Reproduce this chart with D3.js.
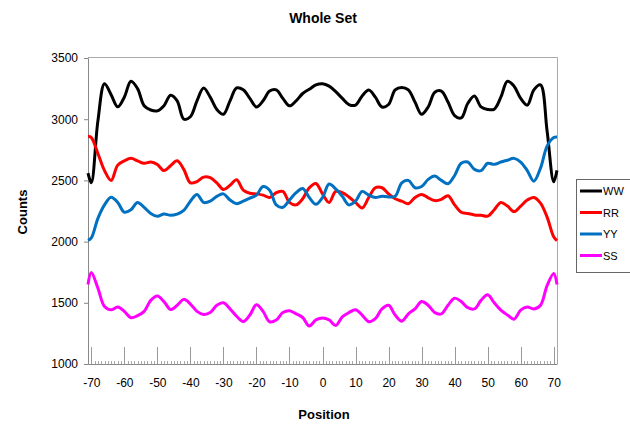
<!DOCTYPE html>
<html>
<head>
<meta charset="utf-8">
<script src="https://cdn.jsdelivr.net/npm/d3@7"></script>
<style>
  html, body { margin: 0; padding: 0; background: #fff; }
  svg { display: block; font-family: Arial, "Liberation Sans", sans-serif; }
</style>
</head>
<body>
<svg id="chart" width="630" height="425"></svg>
<script>
const positions = [-71, -70, -68, -66, -64, -62, -60, -58, -56, -54, -52, -50, -48, -46, -44, -42, -40, -38, -36, -34, -32, -30, -28, -26, -24, -22, -20, -18, -16, -14, -12, -10, -8, -6, -4, -2, 0, 2, 4, 6, 8, 10, 12, 14, 16, 18, 20, 22, 24, 26, 28, 30, 32, 34, 36, 38, 40, 42, 44, 46, 48, 50, 52, 54, 56, 58, 60, 62, 64, 66, 68, 70, 71];

const WW = [2560, 2481, 2986, 3290, 3200, 3101, 3180, 3310, 3250, 3110, 3075, 3068, 3110, 3195, 3150, 3000, 3020, 3150, 3254, 3180, 3080, 3040, 3150, 3255, 3240, 3170, 3100, 3150, 3230, 3240, 3170, 3109, 3150, 3210, 3245, 3280, 3290, 3270, 3225, 3170, 3120, 3115, 3190, 3238, 3180, 3100, 3120, 3240, 3260, 3240, 3140, 3040, 3100, 3220, 3230, 3140, 3030, 3010, 3130, 3190, 3100, 3080, 3082, 3180, 3310, 3270, 3170, 3115, 3240, 3280, 2904, 2489, 2582];

const RR = [2860, 2850, 2720, 2580, 2500, 2625, 2660, 2680, 2660, 2640, 2650, 2630, 2580, 2620, 2660, 2590, 2480, 2490, 2527, 2522, 2480, 2426, 2460, 2505, 2420, 2395, 2390, 2380, 2360, 2400, 2410, 2320, 2300, 2350, 2440, 2475, 2390, 2320, 2410, 2400, 2365, 2320, 2275, 2360, 2440, 2440, 2390, 2350, 2330, 2310, 2360, 2385, 2358, 2335, 2345, 2375, 2300, 2240, 2230, 2218, 2215, 2208, 2260, 2320, 2290, 2245, 2290, 2340, 2360, 2315, 2200, 2040, 2008];

const YY = [2010, 2030, 2190, 2300, 2363, 2320, 2240, 2260, 2320, 2280, 2230, 2207, 2225, 2215, 2225, 2255, 2330, 2385, 2320, 2330, 2370, 2390, 2340, 2310, 2330, 2355, 2380, 2450, 2420, 2300, 2280, 2340, 2400, 2434, 2360, 2305, 2360, 2470, 2430, 2370, 2300, 2330, 2410, 2380, 2360, 2371, 2365, 2370, 2480, 2500, 2440, 2450, 2508, 2535, 2500, 2473, 2540, 2640, 2650, 2590, 2580, 2640, 2631, 2650, 2665, 2680, 2650, 2580, 2494, 2600, 2780, 2850, 2855];

const SS = [1650, 1748, 1620, 1470, 1443, 1465, 1430, 1378, 1395, 1430, 1520, 1555, 1510, 1445, 1480, 1528, 1490, 1430, 1405, 1420, 1480, 1500, 1450, 1390, 1347, 1400, 1484, 1430, 1345, 1360, 1420, 1435, 1410, 1380, 1311, 1360, 1375, 1360, 1315, 1385, 1420, 1443, 1400, 1345, 1370, 1450, 1480, 1400, 1350, 1410, 1450, 1510, 1480, 1420, 1410, 1480, 1538, 1510, 1460, 1450, 1520, 1566, 1500, 1440, 1400, 1366, 1440, 1465, 1450, 1480, 1640, 1740, 1650];

const seriesNames = ["WW", "RR", "YY", "SS"];
const seriesColors = ["#000000", "#ff0000", "#0070c0", "#ff00ff"];
const seriesValues = [WW, RR, YY, SS];

const xTicks = [-70, -60, -50, -40, -30, -20, -10, 0, 10, 20, 30, 40, 50, 60, 70];
const yTicks = [1000, 1500, 2000, 2500, 3000, 3500];

const chartTitle = "Whole Set";
const xTitle = "Position";
const yTitle = "Counts";

(function () {
const svg = d3.select("#chart");
const mLeft = 88, mRight = 557, mTop = 58, mBottom = 364;

const x = d3.scaleLinear().domain([-71, 71]).range([mLeft, mRight]);
const y = d3.scaleLinear().domain([1000, 3500]).range([mBottom, mTop]);

// frame (top and right borders)
svg.append("path")
  .attr("d", `M${mLeft},${mTop - 0.5}H${mRight + 0.5}V${mBottom}`)
  .attr("fill", "none").attr("stroke", "#aaa").attr("stroke-width", 1);

// minor ticks on x-axis
const minor = d3.range(-71, 72, 1);
svg.append("g").selectAll("line").data(minor).join("line")
  .attr("x1", d => Math.round(x(d)) + 0.5).attr("x2", d => Math.round(x(d)) + 0.5)
  .attr("y1", mBottom - 3).attr("y2", mBottom)
  .attr("stroke", "#aaa").attr("stroke-width", 1);

// x axis with major ticks pointing up
const xAxis = d3.axisBottom(x).tickValues(xTicks).tickSize(0).tickPadding(14).tickFormat(d => String(d));
const gx = svg.append("g").attr("transform", `translate(0,${mBottom})`).call(xAxis);
gx.select(".domain").attr("stroke", "#888");
gx.selectAll(".tick line").remove();
gx.selectAll(".tick text").attr("font-size", 12).attr("fill", "#000")
  .attr("font-family", "Arial, 'Liberation Sans', sans-serif");

svg.append("g").selectAll("line").data(xTicks).join("line")
  .attr("x1", d => Math.round(x(d)) + 0.5).attr("x2", d => Math.round(x(d)) + 0.5)
  .attr("y1", mBottom - 17).attr("y2", mBottom)
  .attr("stroke", "#999").attr("stroke-width", 1);

// y axis
const yAxis = d3.axisLeft(y).tickValues(yTicks).tickSize(4).tickPadding(6).tickFormat(d => String(d));
const gy = svg.append("g").attr("transform", `translate(${mLeft},0)`).call(yAxis);
gy.select(".domain").attr("stroke", "#888");
gy.selectAll(".tick line").attr("stroke", "#888");
gy.selectAll(".tick text").attr("font-size", 12).attr("fill", "#000")
  .attr("font-family", "Arial, 'Liberation Sans', sans-serif");

// lines
const line = d3.line()
  .x((d, i) => x(positions[i]))
  .y(d => y(d))
  .curve(d3.curveCatmullRom.alpha(0.5));

seriesValues.forEach((vals, k) => {
  svg.append("path")
    .datum(vals)
    .attr("d", line)
    .attr("fill", "none")
    .attr("stroke", seriesColors[k])
    .attr("stroke-width", 3)
    .attr("stroke-linejoin", "round");
});

// titles
svg.append("text").attr("x", 323).attr("y", 23).attr("text-anchor", "middle")
  .attr("font-size", 14).attr("font-weight", "bold").text(chartTitle);
svg.append("text").attr("x", 324).attr("y", 419).attr("text-anchor", "middle")
  .attr("font-size", 13).attr("font-weight", "bold").text(xTitle);
svg.append("text").attr("transform", "translate(27,212) rotate(-90)").attr("text-anchor", "middle")
  .attr("font-size", 13).attr("font-weight", "bold").text(yTitle);

// legend
const lg = svg.append("g");
lg.append("rect").attr("x", 576.5).attr("y", 179.5).attr("width", 60).attr("height", 93)
  .attr("fill", "#fff").attr("stroke", "#666").attr("stroke-width", 1);
seriesNames.forEach((name, k) => {
  const yy = 191 + k * 21.5;
  lg.append("line").attr("x1", 580).attr("x2", 602).attr("y1", yy).attr("y2", yy)
    .attr("stroke", seriesColors[k]).attr("stroke-width", 3);
  lg.append("text").attr("x", 603).attr("y", yy + 4).attr("font-size", 11).text(name);
});
})();
</script>
</body>
</html>
